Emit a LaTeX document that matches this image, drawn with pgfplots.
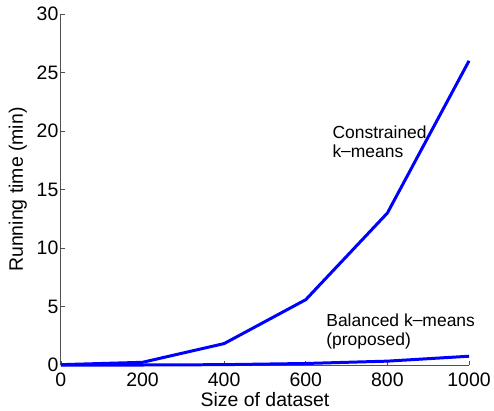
\documentclass[border=0pt]{standalone}
\usepackage{fontspec}
\setmainfont{Liberation Sans}
\usepackage{pgfplots}
\pgfplotsset{compat=1.18}
\definecolor{axgray}{RGB}{80,80,80}
\begin{document}
\begin{tikzpicture}
\begin{axis}[
  scale only axis, width=409pt, height=352pt,
  xmin=0, xmax=1000, ymin=0, ymax=30,
  axis lines=left,
  axis line style={-, draw=axgray, line width=0.8pt},
  xtick={0,200,...,1000}, ytick={0,5,...,30},
  tick align=inside, major tick length=4pt,
  tick style={draw=axgray, line width=0.7pt},
  /pgf/number format/assume math mode=true,
  /pgf/number format/1000 sep={},
  ticklabel style={font=\fontsize{19.5}{21}\selectfont},
  xticklabel style={yshift=-4pt},
  yticklabel style={xshift=1pt},
  label style={font=\fontsize{19.5}{21}\selectfont},
  xlabel={Size of dataset}, ylabel={Running time (min)},
  xlabel style={yshift=1pt},
  ylabel style={yshift=3pt},
  clip=false,
]
\addplot[blue, line width=3pt, line join=round] coordinates {
  (0,0.05) (200,0.25) (400,1.85) (600,5.6) (800,13.0) (1000,26.0)
};
\addplot[blue, line width=3pt, line join=round] coordinates {
  (0,0.0) (200,0.02) (400,0.05) (600,0.15) (800,0.35) (1000,0.77)
};
\node[anchor=west, align=left, font=\fontsize{17.5}{19}\selectfont, inner sep=0pt] at (axis cs:665,19.1) {Constrained\\k\raisebox{0.1ex}{--}means};
\node[anchor=west, align=left, font=\fontsize{17.5}{19}\selectfont, inner sep=0pt] at (axis cs:650,2.85) {Balanced k\raisebox{0.1ex}{--}means\\(proposed)};
\end{axis}
\path ([xshift=-61pt,yshift=14pt]current axis.north west) -- ([xshift=23pt,yshift=-45pt]current axis.south east);
\end{tikzpicture}
\end{document}
